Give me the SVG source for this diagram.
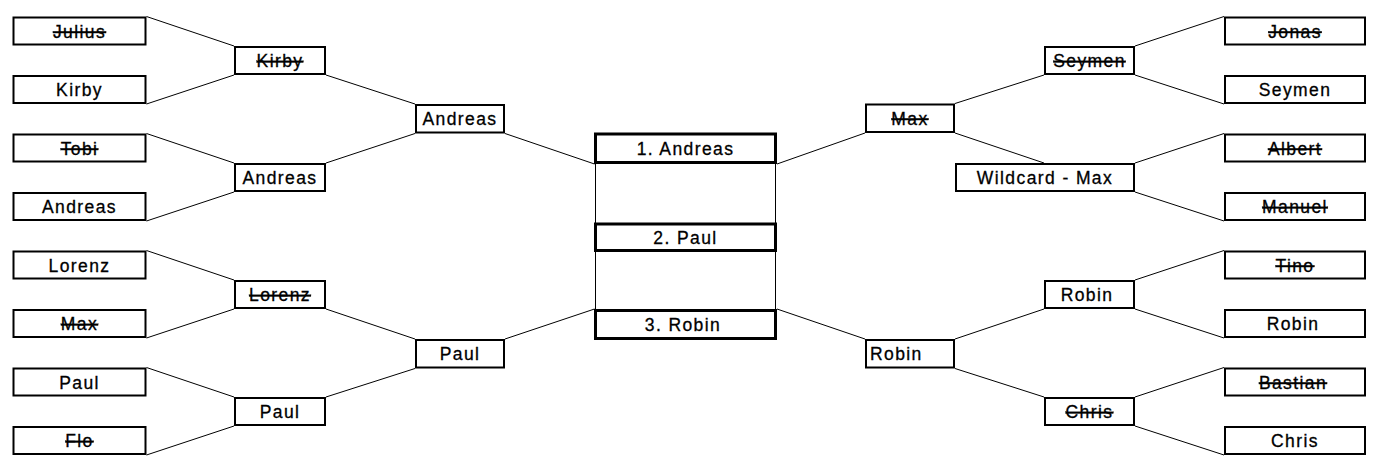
<svg xmlns="http://www.w3.org/2000/svg" width="1386" height="474" viewBox="0 0 1386 474">
<style>
.b{fill:#fff;stroke:#000;stroke-width:2}
.c{fill:#fff;stroke:#000;stroke-width:3}
.t{font-family:"Liberation Sans",Arial,sans-serif;font-size:17.5px;letter-spacing:1.4px;fill:#000;stroke:#000;stroke-width:0.3px;text-anchor:middle}
.s{text-decoration:line-through}
.l{text-anchor:start}
#connectors line{stroke:#000;stroke-width:1}
</style>
<rect width="1386" height="474" fill="#fff"/>
<g id="connectors">
<line x1="146.5" y1="16.5" x2="234" y2="46"/>
<line x1="146.5" y1="104" x2="234" y2="75"/>
<line x1="146.5" y1="133.5" x2="234" y2="163"/>
<line x1="146.5" y1="221" x2="234" y2="192"/>
<line x1="146.5" y1="250.5" x2="234" y2="280"/>
<line x1="146.5" y1="338" x2="234" y2="309"/>
<line x1="146.5" y1="367.5" x2="234" y2="397"/>
<line x1="146.5" y1="455" x2="234" y2="426"/>
<line x1="326" y1="75" x2="415" y2="104"/>
<line x1="326" y1="163" x2="415" y2="133.5"/>
<line x1="326" y1="309" x2="415" y2="339"/>
<line x1="326" y1="397" x2="415" y2="368.5"/>
<line x1="505" y1="133.5" x2="594.5" y2="164"/>
<line x1="505" y1="339" x2="594.5" y2="309"/>
<line x1="595.5" y1="164" x2="595.5" y2="309"/>
<line x1="775.5" y1="164" x2="775.5" y2="309"/>
<line x1="777" y1="164" x2="865" y2="133"/>
<line x1="777" y1="309" x2="865" y2="339"/>
<line x1="955" y1="103.5" x2="1044" y2="75"/>
<line x1="955" y1="133" x2="1044" y2="163"/>
<line x1="955" y1="339" x2="1044" y2="309"/>
<line x1="955" y1="368.5" x2="1044" y2="397"/>
<line x1="1135" y1="46" x2="1224" y2="16.5"/>
<line x1="1135" y1="75" x2="1224" y2="104"/>
<line x1="1135" y1="163" x2="1224" y2="133.5"/>
<line x1="1135" y1="192" x2="1224" y2="221"/>
<line x1="1135" y1="280" x2="1224" y2="250.5"/>
<line x1="1135" y1="309" x2="1224" y2="338"/>
<line x1="1135" y1="397" x2="1224" y2="367.5"/>
<line x1="1135" y1="426" x2="1224" y2="455"/>
</g>
<!-- left leaves -->
<g id="julius"><rect class="b" x="13.5" y="17.5" width="132" height="27"/><text class="t s" x="79.5" y="37.5">Julius</text></g>
<g id="kirby-leaf"><rect class="b" x="13.5" y="76" width="132" height="27"/><text class="t" x="79.5" y="96">Kirby</text></g>
<g id="tobi"><rect class="b" x="13.5" y="134.5" width="132" height="27"/><text class="t s" x="79.5" y="154.5">Tobi</text></g>
<g id="andreas-leaf"><rect class="b" x="13.5" y="193" width="132" height="27"/><text class="t" x="79.5" y="213">Andreas</text></g>
<g id="lorenz-leaf"><rect class="b" x="13.5" y="251.5" width="132" height="27"/><text class="t" x="79.5" y="271.5">Lorenz</text></g>
<g id="max-leaf"><rect class="b" x="13.5" y="310" width="132" height="27"/><text class="t s" x="79.5" y="330">Max</text></g>
<g id="paul-leaf"><rect class="b" x="13.5" y="368.5" width="132" height="27"/><text class="t" x="79.5" y="388.5">Paul</text></g>
<g id="flo"><rect class="b" x="13.5" y="427" width="132" height="27"/><text class="t s" x="79.5" y="447">Flo</text></g>
<!-- left round 2 -->
<g id="kirby-r2"><rect class="b" x="235" y="47" width="90" height="27"/><text class="t s" x="280" y="67">Kirby</text></g>
<g id="andreas-r2"><rect class="b" x="235" y="164" width="90" height="27"/><text class="t" x="280" y="184">Andreas</text></g>
<g id="lorenz-r2"><rect class="b" x="235" y="281" width="90" height="27"/><text class="t s" x="280" y="301">Lorenz</text></g>
<g id="paul-r2"><rect class="b" x="235" y="398" width="90" height="27"/><text class="t" x="280" y="418">Paul</text></g>
<!-- left round 3 -->
<g id="andreas-r3"><rect class="b" x="416" y="105" width="88" height="27.5"/><text class="t" x="460" y="125">Andreas</text></g>
<g id="paul-r3"><rect class="b" x="416" y="340" width="88" height="27.5"/><text class="t" x="460" y="360">Paul</text></g>
<!-- center -->
<g id="first"><rect class="c" x="595.5" y="134" width="180" height="28.5"/><text class="t" x="685.5" y="154.5">1. Andreas</text></g>
<g id="second"><rect class="c" x="595.5" y="224" width="180" height="26.5"/><text class="t" x="685.5" y="243.5">2. Paul</text></g>
<g id="third"><rect class="c" x="595.5" y="310.5" width="180" height="28"/><text class="t" x="683" y="330.5">3. Robin</text></g>
<!-- right round 3 -->
<g id="max-r3"><rect class="b" x="866" y="104.5" width="88" height="27.5"/><text class="t s" x="910" y="124.5">Max</text></g>
<g id="robin-r3"><rect class="b" x="866" y="340" width="88" height="27.5"/><text class="t l" x="870" y="360">Robin</text></g>
<!-- right round 2 -->
<g id="seymen-r2"><rect class="b" x="1045" y="47" width="89" height="27"/><text class="t s" x="1089.5" y="67">Seymen</text></g>
<g id="wildcard-max"><rect class="b" x="956" y="164" width="178" height="27"/><text class="t" x="1045" y="184">Wildcard - Max</text></g>
<g id="robin-r2"><rect class="b" x="1045" y="281" width="89" height="27"/><text class="t" x="1087" y="301">Robin</text></g>
<g id="chris-r2"><rect class="b" x="1045" y="398" width="89" height="27"/><text class="t s" x="1089.5" y="418">Chris</text></g>
<!-- right leaves -->
<g id="jonas"><rect class="b" x="1225" y="17.5" width="140" height="27"/><text class="t s" x="1295" y="37.5">Jonas</text></g>
<g id="seymen-leaf"><rect class="b" x="1225" y="76" width="140" height="27"/><text class="t" x="1295" y="96">Seymen</text></g>
<g id="albert"><rect class="b" x="1225" y="134.5" width="140" height="27"/><text class="t s" x="1295" y="154.5">Albert</text></g>
<g id="manuel"><rect class="b" x="1225" y="193" width="140" height="27"/><text class="t s" x="1295" y="213">Manuel</text></g>
<g id="tino"><rect class="b" x="1225" y="251.5" width="140" height="27"/><text class="t s" x="1295" y="271.5">Tino</text></g>
<g id="robin-leaf"><rect class="b" x="1225" y="310" width="140" height="27"/><text class="t" x="1293" y="330">Robin</text></g>
<g id="bastian"><rect class="b" x="1225" y="368.5" width="140" height="27"/><text class="t s" x="1293" y="388.5">Bastian</text></g>
<g id="chris-leaf"><rect class="b" x="1225" y="427" width="140" height="27"/><text class="t" x="1295" y="447">Chris</text></g>
</svg>
